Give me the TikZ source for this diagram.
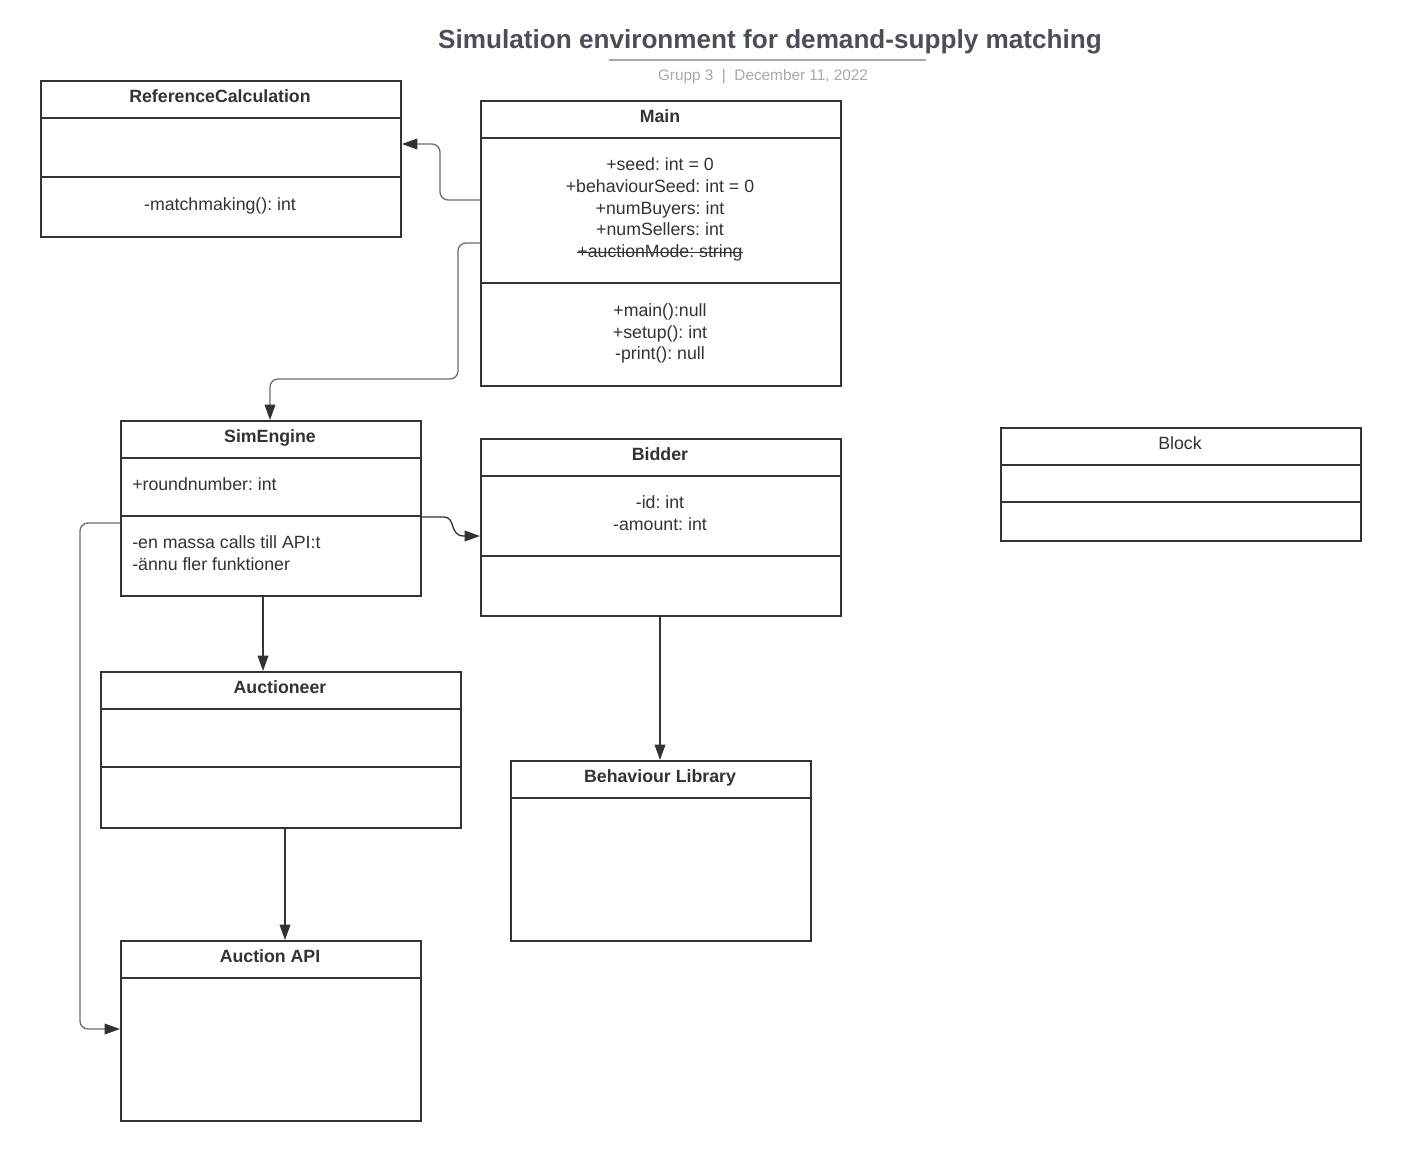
\documentclass[tikz,border=0pt]{standalone}
\usepackage{fontspec}
\setmainfont{Liberation Sans}
\usetikzlibrary{arrows.meta}
\newdimen\px \px=0.75pt
\frenchspacing
\definecolor{ink}{HTML}{333333}
\definecolor{titlec}{HTML}{4A4F57}
\definecolor{subc}{HTML}{A5A9B1}
\definecolor{rulec}{HTML}{A3A8B3}
\definecolor{greyline}{HTML}{6E6E6E}
\begin{document}
\begin{tikzpicture}[x=0.75pt,y=-0.75pt,
 box/.style={draw=ink, line width=1.5pt, anchor=north west, inner sep=0pt},
 sep/.style={draw=ink, line width=1.5pt},
 txt/.style={anchor=base, inner sep=0pt, text=ink, font=\fontsize{13.3}{16}\selectfont},
 ttl/.style={txt, font=\fontsize{13.3}{16}\selectfont\bfseries},
 ltxt/.style={txt, anchor=base west},
 conn/.style={draw=ink, line width=1pt, -{Triangle[length=11.5pt,width=8pt,color=ink]}},
 gconn/.style={conn, draw=greyline, rounded corners=8\px},
]
\useasboundingbox[fill=white] (0,0) rectangle (1413,1160);

% title
\node[anchor=base, inner sep=0pt, text=titlec, font=\fontsize{19.6}{24}\selectfont\bfseries] (title) at (770,48.5) {Simulation environment for demand-supply matching};
\draw[rulec, line width=1.5pt] (609,60) -- (926,60);
\node[anchor=base, inner sep=0pt, text=subc, font=\fontsize{11.5}{14}\selectfont] (sub) at (763,80) {Grupp 3\ \ |\ \ December 11, 2022};

% ReferenceCalculation
\node[box, minimum width=360\px, minimum height=156\px] (ref) at (40,80) {};
\draw[sep] (ref.west |- 0,118) -- (ref.east |- 0,118);
\draw[sep] (ref.west |- 0,177) -- (ref.east |- 0,177);
\node[ttl] (reft) at (220,102.5) {ReferenceCalculation};
\node[txt] (refm) at (220,210.5) {-matchmaking(): int};

% Main
\node[box, minimum width=360\px, minimum height=285\px] (main) at (480,100) {};
\draw[sep] (main.west |- 0,138) -- (main.east |- 0,138);
\draw[sep] (main.west |- 0,283) -- (main.east |- 0,283);
\node[ttl] (maint) at (660,122.5) {Main};
\node[txt] (ma1) at (660,170.5) {+seed: int = 0};
\node[txt] (ma2) at (660,192.5) {+behaviourSeed: int = 0};
\node[txt] (ma3) at (660,214.5) {+numBuyers: int};
\node[txt] (ma4) at (660,235.5) {+numSellers: int};
\node[txt] (ma5) at (660,257.5) {+auctionMode: string};
\draw[ink, line width=0.8pt] ([yshift=3.6pt]ma5.base west) -- ([yshift=3.6pt]ma5.base east);
\node[txt] (mm1) at (660,316.5) {+main():null};
\node[txt] (mm2) at (660,338.5) {+setup(): int};
\node[txt] (mm3) at (660,359.5) {-print(): null};

% SimEngine
\node[box, minimum width=300\px, minimum height=175\px] (sim) at (120,420) {};
\draw[sep] (sim.west |- 0,458) -- (sim.east |- 0,458);
\draw[sep] (sim.west |- 0,516) -- (sim.east |- 0,516);
\node[ttl] (simt) at (270,442.5) {SimEngine};
\node[ltxt] (sa1) at (132,490.5) {+roundnumber: int};
\node[ltxt] (sm1) at (132,548.5) {-en massa calls till API:t};
\node[ltxt] (sm2) at (132,570.5) {-ännu fler funktioner};

% Bidder
\node[box, minimum width=360\px, minimum height=177\px] (bid) at (480,438) {};
\draw[sep] (bid.west |- 0,476) -- (bid.east |- 0,476);
\draw[sep] (bid.west |- 0,556) -- (bid.east |- 0,556);
\node[ttl] (bidt) at (660,460.5) {Bidder};
\node[txt] (ba1) at (660,508.5) {-id: int};
\node[txt] (ba2) at (660,530.5) {-amount: int};

% Block
\node[box, minimum width=360\px, minimum height=113\px] (blk) at (1000,427) {};
\draw[sep] (blk.west |- 0,465) -- (blk.east |- 0,465);
\draw[sep] (blk.west |- 0,502) -- (blk.east |- 0,502);
\node[txt] (blkt) at (1180,449.5) {Block};

% Auctioneer
\node[box, minimum width=360\px, minimum height=156\px] (auc) at (100,671) {};
\draw[sep] (auc.west |- 0,709) -- (auc.east |- 0,709);
\draw[sep] (auc.west |- 0,767) -- (auc.east |- 0,767);
\node[ttl] (auct) at (280,693.5) {Auctioneer};

% Behaviour Library
\node[box, minimum width=300\px, minimum height=180\px] (beh) at (510,760) {};
\draw[sep] (beh.west |- 0,798) -- (beh.east |- 0,798);
\node[ttl] (beht) at (660,782.5) {Behaviour Library};

% Auction API
\node[box, minimum width=300\px, minimum height=180\px] (api) at (120,940) {};
\draw[sep] (api.west |- 0,978) -- (api.east |- 0,978);
\node[ttl] (apit) at (270,962.5) {Auction API};

% connectors
\draw[gconn] (main.west |- 0,200) -- (440,200) -- (440,144) -- (ref.east |- 0,144);
\draw[gconn] (main.west |- 0,243) -- (458,243) -- (458,379) -- (270,379) -- (sim.north -| 270,0);
\draw[conn, draw=ink] (sim.east |- 0,517) -- (444,517) .. controls (456,517) and (449,536) .. (464,536) -- (bid.west |- 0,536);
\draw[gconn] (sim.west |- 0,523) -- (80,523) -- (80,1029) -- (api.west |- 0,1029);
\draw[conn] (sim.south -| 263,0) -- (auc.north -| 263,0);
\draw[conn] (auc.south -| 285,0) -- (api.north -| 285,0);
\draw[conn] (bid.south -| 660,0) -- (beh.north -| 660,0);
\end{tikzpicture}
\end{document}
